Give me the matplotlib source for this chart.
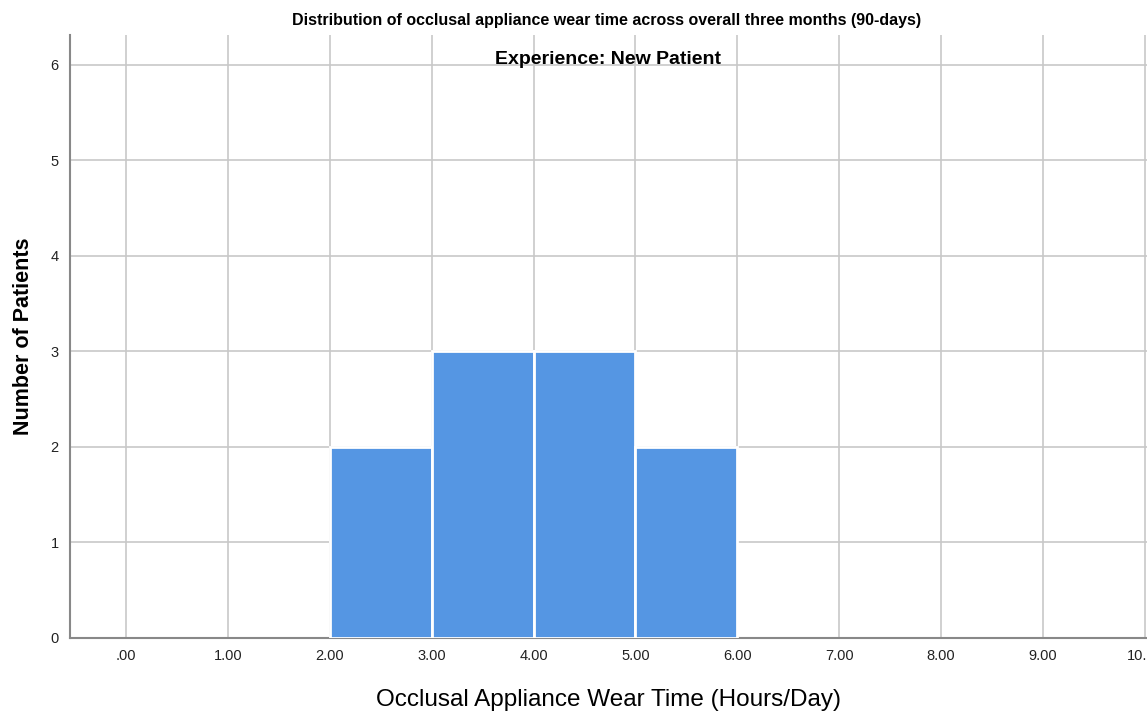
import matplotlib.pyplot as plt
import numpy as np

plt.rcParams['font.family'] = ['Liberation Sans', 'DejaVu Sans']

bin_left = [2.0, 3.0, 4.0, 5.0]
counts = [2, 3, 3, 2]
x_ticks = [0, 1, 2, 3, 4, 5, 6, 7, 8, 9, 10]
x_labels = ['.00', '1.00', '2.00', '3.00', '4.00', '5.00', '6.00', '7.00', '8.00', '9.00', '10.00']
y_ticks = [0, 1, 2, 3, 4, 5, 6]

fig = plt.figure(figsize=(11.47, 7.11), dpi=100)
ax = fig.add_axes([0.061, 0.1027, 0.939, 0.848])

ax.bar(bin_left, counts, width=1.0, align='edge', color='#5596e3',
       edgecolor='white', linewidth=2, zorder=3)

ax.set_xlim(-0.55, 10.02)
ax.set_ylim(0, 6.31)
ax.set_xticks(x_ticks)
ax.set_xticklabels(x_labels)
ax.set_yticks(y_ticks)
ax.tick_params(axis='both', labelsize=10.5, length=0, pad=8, colors='#222222')
ax.grid(True, color='#c8c8c8', linewidth=1.2, zorder=0)
ax.set_axisbelow(True)

for s in ['top', 'right']:
    ax.spines[s].set_visible(False)
for s in ['left', 'bottom']:
    ax.spines[s].set_color('#888888')
    ax.spines[s].set_linewidth(1.5)

ax.set_ylabel('Number of Patients', fontsize=15.5, fontweight='bold', labelpad=12)
ax.set_xlabel('Occlusal Appliance Wear Time (Hours/Day)', fontsize=17.5, labelpad=19)
fig.text(0.529, 0.971, 'Distribution of occlusal appliance wear time across overall three months (90-days)',
         ha='center', va='center', fontsize=11.5, fontweight='bold')
ax.text(0.5, 0.96, 'Experience: New Patient', transform=ax.transAxes,
        ha='center', va='center', fontsize=14, fontweight='bold')

fig.savefig('out.png', dpi=100)
